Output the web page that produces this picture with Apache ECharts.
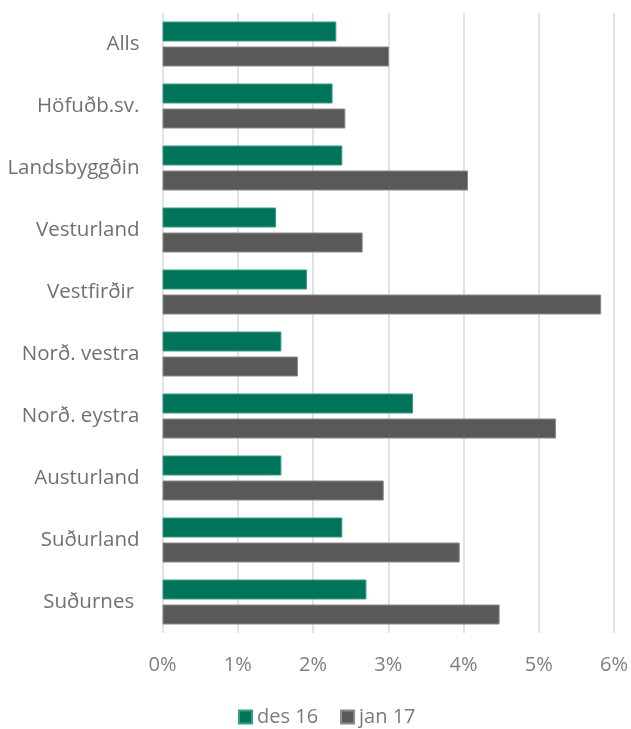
<!DOCTYPE html>
<html>
<head>
<meta charset="utf-8">
<script src="https://cdn.jsdelivr.net/npm/echarts@6/dist/echarts.min.js"></script>
<style>html,body{margin:0;padding:0;background:#fff}#c{width:631px;height:729px}</style>
</head>
<body>
<div id="c"></div>
<script>
const categories = ['Alls','Höfuðb.sv.','Landsbyggðin','Vesturland','Vestfirðir ','Norð. vestra','Norð. eystra','Austurland','Suðurland','Suðurnes '];
const des16 = [2.31,2.26,2.39,1.51,1.92,1.58,3.33,1.58,2.39,2.71];
const jan17 = [3.01,2.43,4.06,2.66,5.83,1.80,5.23,2.94,3.95,4.48];
const seriesNames = ['des 16','jan 17'];
const xTicks = [0,1,2,3,4,5,6];

const font = '"Open Sans", sans-serif';
const chart = echarts.init(document.getElementById('c'), null, {renderer:'canvas'});
chart.setOption({
  animation:false,
  grid:{left:162.5,right:17,top:13,bottom:96,containLabel:false},
  legend:{
    data:seriesNames, bottom:-3, left:233,
    itemWidth:13,itemHeight:13,itemGap:22,icon:'rect',
    textStyle:{color:'#7a7a7a',fontSize:20,fontFamily:font}
  },
  xAxis:{
    type:'value',min:xTicks[0],max:xTicks[xTicks.length-1],interval:1,
    axisLine:{show:false},axisTick:{show:false},
    splitLine:{lineStyle:{color:'#d9d9d9',width:1.5}},
    axisLabel:{formatter:v=>v+'%',color:'#7f7f7f',fontSize:20,fontFamily:font,margin:22}
  },
  yAxis:{
    type:'category',data:categories,inverse:true,
    axisLine:{show:false},axisTick:{show:false},
    axisLabel:{color:'#707070',fontSize:20.5,fontFamily:font,margin:23}
  },
  series:[
    {name:seriesNames[0],type:'bar',data:des16,barWidth:20,barGap:'25%',
     itemStyle:{color:'#00745a',borderColor:'#3a9c82',borderWidth:1}},
    {name:seriesNames[1],type:'bar',data:jan17,barWidth:20,barGap:'25%',
     itemStyle:{color:'#595959',borderColor:'#8a8a8a',borderWidth:1}}
  ]
});
</script>
</body>
</html>
